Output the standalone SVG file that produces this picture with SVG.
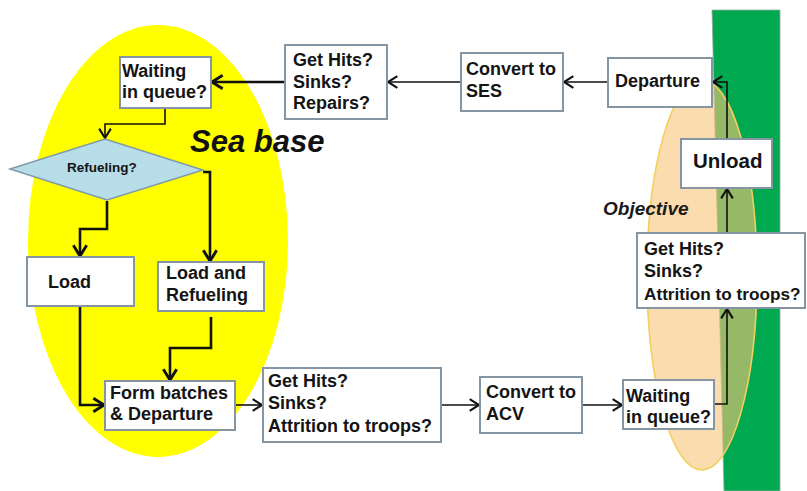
<svg xmlns="http://www.w3.org/2000/svg" width="807" height="491" viewBox="0 0 807 491">
<defs>
<style>
.box{fill:#fff;stroke:#8595a2;stroke-width:2}
.t{font-family:"Liberation Sans",Arial,sans-serif;font-weight:bold;font-size:18px;fill:#141414}
.c{fill:none;stroke:#111;stroke-linejoin:miter}
.thin{stroke-width:1.6}
.thick{stroke-width:2.6}
</style>
<marker id="a" markerUnits="userSpaceOnUse" markerWidth="14" markerHeight="14" viewBox="0 0 10 12" refX="9" refY="6" orient="auto">
<path d="M1,1 L9,6 L1,11" fill="none" stroke="#111" stroke-width="1.8"/>
</marker>
<marker id="b" markerUnits="userSpaceOnUse" markerWidth="16" markerHeight="16" viewBox="0 0 10 12" refX="9" refY="6" orient="auto">
<path d="M1,1 L9,6 L1,11" fill="none" stroke="#111" stroke-width="2.2"/>
</marker>
</defs>
<rect width="807" height="491" fill="#fff"/>
<g id="background">
<ellipse cx="158" cy="241" rx="130" ry="216" fill="#ffff00"/>
<polygon points="712,10 780,10 780,491 724,491" fill="#00a84f" stroke="#9aa8a0" stroke-width="0.8"/>
<ellipse cx="702" cy="275" rx="55" ry="195" fill="#f8c478" fill-opacity="0.6" stroke="#f3cf5c" stroke-width="1.6"/>
<text x="190" y="152" font-family="Liberation Sans,Arial,sans-serif" font-weight="bold" font-style="italic" font-size="31" fill="#111">Sea base</text>
<text x="603" y="215" font-family="Liberation Sans,Arial,sans-serif" font-weight="bold" font-style="italic" font-size="19" fill="#1a1a1a">Objective</text>
</g>
<g id="connectors">
<path class="c thin" d="M608,82 H564" marker-end="url(#a)"/>
<path class="c thin" d="M461,82 H388" marker-end="url(#a)"/>
<path class="c thick" d="M285,82 H212" marker-end="url(#b)"/>
<path class="c thin" d="M165,108 V124 H105 V138" marker-end="url(#a)"/>
<path class="c thick" d="M107,201 V229 H80 V256" marker-end="url(#b)"/>
<path class="c thick" d="M203,172 H210 V261" marker-end="url(#b)"/>
<path class="c thick" d="M80,306 V405 H104" marker-end="url(#b)"/>
<path class="c thick" d="M211,317 V348 H170 V380" marker-end="url(#b)"/>
<path class="c thin" d="M235,405 H262" marker-end="url(#a)"/>
<path class="c thin" d="M441,405 H479" marker-end="url(#a)"/>
<path class="c thin" d="M582,405 H622" marker-end="url(#a)"/>
<path class="c thin" d="M714,404 H727 V309" marker-end="url(#a)"/>
<path class="c thin" d="M727,233 V189" marker-end="url(#a)"/>
<path class="c thin" d="M727,139 V82 H713" marker-end="url(#a)"/>
</g>
<g id="waiting-top">
<rect class="box" x="120" y="57" width="91" height="51"/>
<text class="t" x="122" y="77">Waiting</text>
<text class="t" x="122" y="98">in queue?</text>
</g>
<g id="gethits-top">
<rect class="box" x="285" y="45" width="102" height="74"/>
<text class="t" x="293" y="66">Get Hits?</text>
<text class="t" x="293" y="88">Sinks?</text>
<text class="t" x="293" y="109">Repairs?</text>
</g>
<g id="convert-ses">
<rect class="box" x="461" y="53" width="102" height="58"/>
<text class="t" x="466" y="75">Convert to</text>
<text class="t" x="466" y="97">SES</text>
</g>
<g id="departure-top">
<rect class="box" x="608" y="58" width="104" height="49"/>
<text class="t" x="615" y="87">Departure</text>
</g>
<g id="unload">
<rect class="box" x="681" y="139" width="91" height="49"/>
<text class="t" x="693" y="168" style="font-size:20.5px">Unload</text>
</g>
<g id="gethits-right">
<rect class="box" x="637" y="233" width="168" height="75"/>
<text class="t" x="644" y="255">Get Hits?</text>
<text class="t" x="644" y="277">Sinks?</text>
<text class="t" x="644" y="300" style="font-size:17.2px">Attrition to troops?</text>
</g>
<g id="refueling">
<polygon points="10,169 105,139 203,170 107,200" fill="#b7dde8" stroke="#7f9aa8" stroke-width="1.5"/>
<text class="t" x="67" y="172" style="font-size:13.5px">Refueling?</text>
</g>
<g id="load">
<rect class="box" x="27" y="257" width="107" height="49"/>
<text class="t" x="48" y="288">Load</text>
</g>
<g id="load-refueling">
<rect class="box" x="158" y="262" width="106" height="49"/>
<text class="t" x="166" y="279">Load and</text>
<text class="t" x="166" y="301">Refueling</text>
</g>
<g id="form-batches">
<rect class="box" x="105" y="381" width="130" height="49"/>
<text class="t" x="110" y="399">Form batches</text>
<text class="t" x="110" y="420">&amp; Departure</text>
</g>
<g id="gethits-bottom">
<rect class="box" x="263" y="368" width="178" height="74"/>
<text class="t" x="268" y="387">Get Hits?</text>
<text class="t" x="268" y="409">Sinks?</text>
<text class="t" x="268" y="432">Attrition to troops?</text>
</g>
<g id="convert-acv">
<rect class="box" x="480" y="377" width="102" height="56"/>
<text class="t" x="486" y="398">Convert to</text>
<text class="t" x="486" y="420">ACV</text>
</g>
<g id="waiting-bottom">
<rect class="box" x="623" y="380" width="91" height="49"/>
<text class="t" x="626" y="402">Waiting</text>
<text class="t" x="626" y="423">in queue?</text>
</g>
</svg>
